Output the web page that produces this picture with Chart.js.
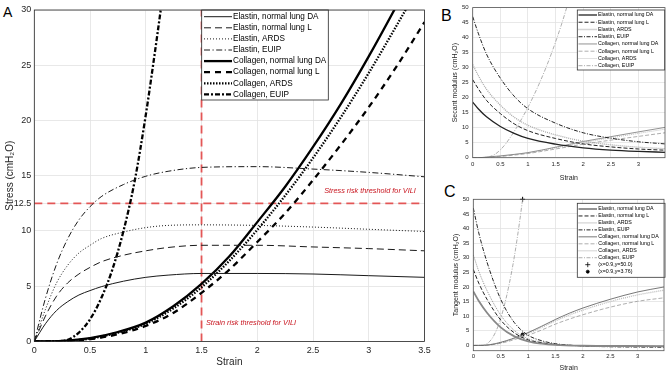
<!DOCTYPE html>
<html>
<head>
<meta charset="utf-8">
<script src="https://cdn.jsdelivr.net/npm/chart.js@4.4.1/dist/chart.umd.min.js"></script>
<style>
  body { margin: 0; background: #fff; width: 669px; height: 372px; position: relative; overflow: hidden; }
  canvas { position: absolute; }
  .tag { position: absolute; font-family: 'Liberation Sans', Arial, sans-serif; line-height: 1; color: #000; }
</style>
</head>
<body>
<div class="tag" style="left:3px;top:5px;font-size:14px">A</div>
<div class="tag" style="left:441px;top:8px;font-size:16px">B</div>
<div class="tag" style="left:444px;top:184px;font-size:16px">C</div>
<canvas id="chartA" width="440" height="372" style="left:0;top:0"></canvas>
<canvas id="chartB" width="229" height="185" style="left:440px;top:0"></canvas>
<canvas id="chartC" width="229" height="187" style="left:440px;top:185px"></canvas>
<script>
// ---- panel A : stress vs strain ----
const elastinStrain = [0, 0.1, 0.2, 0.3, 0.4, 0.5, 0.6, 0.8, 1.0, 1.2, 1.5, 2.0, 2.5, 3.0, 3.5];
const stressElastinDA   = [0, 1.6, 2.8, 3.6, 4.2, 4.6, 4.95, 5.45, 5.8, 6.0, 6.15, 6.15, 6.1, 5.95, 5.8];
const stressElastinL    = [0, 2.3, 4.1, 5.3, 6.1, 6.7, 7.2, 7.8, 8.2, 8.5, 8.7, 8.7, 8.55, 8.4, 8.2];
const stressElastinARDS = [0, 2.9, 5.3, 6.9, 8.0, 8.7, 9.3, 9.9, 10.3, 10.5, 10.55, 10.5, 10.35, 10.15, 9.95];
const stressElastinEUIP = [0, 3.9, 7.0, 9.3, 11.0, 12.2, 13.1, 14.2, 14.95, 15.4, 15.75, 15.82, 15.6, 15.3, 14.9];

const collagenStrain = [0, 0.25, 0.5, 0.75, 1.0, 1.25, 1.5, 1.75, 2.0, 2.25, 2.5, 2.75, 3.0, 3.25, 3.5];
const stressCollagenDA   = [0, 0.05, 0.3, 0.85, 1.7, 3.2, 5.2, 7.7, 10.8, 14.0, 17.6, 21.5, 25.8, 30.4, 35.2];
const stressCollagenL    = [0, 0.03, 0.2, 0.65, 1.4, 2.6, 4.4, 6.5, 9.0, 11.6, 14.6, 17.8, 21.2, 24.9, 28.9];
const stressCollagenARDS = [0, 0.04, 0.25, 0.8, 1.6, 3.0, 4.9, 7.3, 10.1, 13.2, 16.6, 20.3, 24.3, 28.6, 33.0];
const euipStrain = [0, 0.2, 0.3, 0.4, 0.5, 0.6, 0.7, 0.8, 0.9, 1.0, 1.1, 1.2];
const stressCollagenEUIP = [0, 0, 0.15, 0.8, 2.0, 3.9, 6.5, 10.0, 14.5, 20.5, 27.5, 35];

const strainThreshold = 1.5;
const stressThreshold = 12.5;

const ticksAx = [0, 0.5, 1, 1.5, 2, 2.5, 3, 3.5];
const ticksAy = [0, 5, 10, 12.5, 15, 20, 25, 30];

// ---- panel B : secant modulus ----
const secantStrain = [0, 0.1, 0.25, 0.5, 0.75, 1.0, 1.5, 2.0, 2.5, 3.0, 3.48];
const secantElastinDA   = [18.5, 16.3, 13.6, 10.4, 8.1, 6.4, 4.5, 3.3, 2.55, 2.1, 1.8];
const secantElastinL    = [26, 23, 19.1, 14.7, 11.3, 9.0, 6.4, 4.6, 3.6, 2.9, 2.5];
const secantElastinARDS = [31, 27.4, 22.8, 17.5, 13.5, 10.8, 7.6, 5.5, 4.3, 3.5, 3.0];
const secantElastinEUIP = [47, 41.5, 34.5, 26.5, 20.5, 16.3, 11.5, 8.3, 6.5, 5.3, 4.6];
const secantCollagenDA   = [0, 0, 0.2, 0.6, 1.1, 1.7, 3.5, 5.4, 7.0, 8.6, 10.1];
const secantCollagenL    = [0, 0, 0.12, 0.4, 0.87, 1.4, 2.9, 4.5, 5.85, 7.1, 8.3];
const secantCollagenARDS = [0, 0, 0.16, 0.5, 1.05, 1.6, 3.3, 5.05, 6.6, 8.1, 9.5];
const secantEuipStrain = [0, 0.2, 0.3, 0.4, 0.5, 0.6, 0.7, 0.8, 0.9, 1.0, 1.2, 1.4, 1.6, 1.75];
const secantCollagenEUIP = [0, 0, 0.3, 1.1, 2.6, 4.7, 7.3, 10.2, 13.4, 16.8, 24.5, 33.5, 44, 53];

// ---- panel C : tangent modulus ----
const tangentStrain = [0, 0.1, 0.25, 0.5, 0.75, 1.0, 1.25, 1.5, 2.0, 2.5, 3.0, 3.48];
const tangentElastinDA   = [18.5, 15.2, 11.2, 6.2, 3.1, 1.4, 0.6, 0.2, -0.1, -0.2, -0.2, -0.25];
const tangentElastinL    = [26, 21.3, 15.8, 8.7, 4.3, 1.9, 0.9, 0.3, -0.1, -0.25, -0.3, -0.35];
const tangentElastinARDS = [31, 25.4, 18.8, 10.4, 5.1, 2.3, 1.1, 0.4, -0.15, -0.3, -0.35, -0.4];
const tangentElastinEUIP = [47, 38.5, 28.5, 15.8, 7.8, 3.5, 1.6, 0.6, -0.2, -0.45, -0.55, -0.6];
const tangentCollStrain = [0, 0.2, 0.4, 0.6, 0.8, 1.0, 1.25, 1.5, 1.75, 2.0, 2.5, 3.0, 3.48];
const tangentCollagenDA   = [0, 0.05, 0.6, 1.6, 2.9, 4.4, 6.6, 8.9, 11.0, 12.8, 15.8, 18.3, 20.0];
const tangentCollagenL    = [0, 0.03, 0.4, 1.2, 2.3, 3.5, 5.3, 7.3, 9.0, 10.5, 13.1, 15.1, 16.3];
const tangentCollagenARDS = [0, 0.04, 0.5, 1.4, 2.7, 4.1, 6.2, 8.4, 10.4, 12.1, 15.0, 17.3, 18.9];
const tangentEuipStrain = [0, 0.15, 0.25, 0.35, 0.45, 0.55, 0.65, 0.75, 0.85, 0.9, 0.95];
const tangentCollagenEUIP = [0, 0, 0.6, 2.6, 6.5, 12.5, 20.5, 30.5, 43, 50, 57];
const markerTop = [{x: 0.9, y: 50.0}];
const markerLow = [{x: 0.9, y: 3.76}];

const ticksBCx = [0, 0.5, 1, 1.5, 2, 2.5, 3];
const ticksBCy = [0, 5, 10, 15, 20, 25, 30, 35, 40, 45, 50];

const seriesNames = ['Elastin, normal lung DA', 'Elastin, normal lung L', 'Elastin, ARDS', 'Elastin, EUIP',
  'Collagen, normal lung DA', 'Collagen, normal lung L', 'Collagen, ARDS', 'Collagen, EUIP'];

const FONT = "'Liberation Sans', Arial, Helvetica, sans-serif";
Chart.defaults.font.family = FONT;
Chart.defaults.color = '#262626';
Chart.defaults.animation = false;

const pts = (xs, ys) => xs.map((x, i) => ({x: x, y: ys[i]}));

function line(label, xs, ys, st) {
  return {
    label: label,
    data: pts(xs, ys),
    borderColor: st.color,
    borderWidth: st.width,
    borderDash: st.dash || [],
    pointRadius: 0,
    fill: false,
    cubicInterpolationMode: 'monotone'
  };
}

// legend drawn as a MATLAB style box inside the axes
const boxLegend = {
  id: 'boxLegend',
  afterDatasetsDraw(chart, args, o) {
    if (!o || !o.w) return;
    const ctx = chart.ctx;
    const items = chart.data.datasets.filter(d => d.label);
    ctx.save();
    ctx.fillStyle = '#fff';
    ctx.fillRect(o.x, o.y, o.w, o.h);
    ctx.setLineDash([]);
    ctx.strokeStyle = o.edge;
    ctx.lineWidth = 0.8;
    ctx.strokeRect(o.x, o.y, o.w, o.h);
    ctx.font = o.font + 'px ' + FONT;
    ctx.textBaseline = 'middle';
    items.forEach((d, i) => {
      const y = o.y0 + i * o.step;
      if (d.showLine === false) {
        ctx.fillStyle = d.borderColor;
        ctx.strokeStyle = d.borderColor;
        Chart.helpers.drawPoint(ctx, {pointStyle: d.pointStyle, radius: d.pointRadius, borderWidth: 1, rotation: 0}, (o.s0 + o.s1) / 2, y);
      } else {
        ctx.strokeStyle = d.borderColor;
        ctx.lineWidth = d.borderWidth;
        ctx.setLineDash(d.borderDash || []);
        ctx.beginPath();
        ctx.moveTo(o.s0, y);
        ctx.lineTo(o.s1, y);
        ctx.stroke();
        ctx.setLineDash([]);
      }
      ctx.fillStyle = '#000';
      ctx.fillText(d.label, o.tx, y);
    });
    ctx.restore();
  }
};

// axes box and free text notes
const frame = {
  id: 'frame',
  afterDraw(chart, args, o) {
    const {ctx, chartArea: a, scales} = chart;
    ctx.save();
    ctx.strokeStyle = o.color;
    ctx.lineWidth = o.width;
    ctx.setLineDash([]);
    ctx.strokeRect(a.left, a.top, a.right - a.left, a.bottom - a.top);
    (o.notes || []).forEach(n => {
      ctx.font = 'italic ' + n.size + 'px ' + FONT;
      ctx.fillStyle = n.color;
      ctx.textBaseline = 'middle';
      ctx.fillText(n.text, scales.x.getPixelForValue(n.x), scales.y.getPixelForValue(n.y));
    });
    ctx.restore();
  }
};

function options(p) {
  return {
    responsive: false,
    layout: {padding: p.pad},
    plugins: {
      legend: {display: false},
      tooltip: {enabled: false},
      boxLegend: p.legend,
      frame: {color: p.frameColor, width: 0.8, notes: p.notes || []}
    },
    scales: {
      x: {
        type: 'linear', min: 0, max: p.xMax,
        afterBuildTicks: s => { s.ticks = p.xTicks.map(v => ({value: v})); },
        afterFit: s => { s.height = p.xHeight; },
        grid: {color: '#e2e2e2', lineWidth: 0.8, drawTicks: false},
        border: {display: false},
        ticks: {font: {size: p.tick}, padding: p.tickPadX, autoSkip: false, maxRotation: 0, callback: v => String(v)},
        title: {display: true, text: 'Strain', font: {size: p.title}, padding: {top: 0, bottom: p.xTitlePad}}
      },
      y: {
        type: 'linear', min: p.yMin, max: p.yMax,
        afterBuildTicks: s => { s.ticks = p.yTicks.map(v => ({value: v})); },
        afterFit: s => { s.width = p.yWidth; },
        grid: {color: '#e2e2e2', lineWidth: 0.8, drawTicks: false},
        border: {display: false},
        ticks: {font: {size: p.tick}, padding: p.tickPadY, autoSkip: false, callback: v => String(v)},
        title: {display: true, text: p.yTitle, font: {size: p.title}, padding: {top: p.yTitlePad, bottom: 0}}
      }
    }
  };
}

// ---------- chart A ----------
const red = 'rgba(226,70,70,0.9)';
const dsA = [
  line(seriesNames[0], elastinStrain, stressElastinDA, {color: '#1a1a1a', width: 1}),
  line(seriesNames[1], elastinStrain, stressElastinL, {color: '#1a1a1a', width: 1, dash: [7, 4]}),
  line(seriesNames[2], elastinStrain, stressElastinARDS, {color: '#1a1a1a', width: 1, dash: [1, 2]}),
  line(seriesNames[3], elastinStrain, stressElastinEUIP, {color: '#1a1a1a', width: 1, dash: [6, 2.5, 1.2, 2.5]}),
  line(seriesNames[4], collagenStrain, stressCollagenDA, {color: '#000', width: 2.3}),
  line(seriesNames[5], collagenStrain, stressCollagenL, {color: '#000', width: 2.3, dash: [6, 5]}),
  line(seriesNames[6], collagenStrain, stressCollagenARDS, {color: '#000', width: 2.3, dash: [1.5, 1.5]}),
  line(seriesNames[7], euipStrain, stressCollagenEUIP, {color: '#000', width: 2.3, dash: [5, 2, 2, 2]}),
  {data: [{x: strainThreshold, y: 0}, {x: strainThreshold, y: 30}], borderColor: red, borderWidth: 1.8, borderDash: [8, 5], pointRadius: 0},
  {data: [{x: 0, y: stressThreshold}, {x: 3.5, y: stressThreshold}], borderColor: red, borderWidth: 1.8, borderDash: [8, 5], pointRadius: 0}
];

new Chart(document.getElementById('chartA'), {
  type: 'line',
  data: {datasets: dsA},
  options: options({
    pad: {left: 0, top: 10, right: 15.5, bottom: 0},
    xMax: 3.5, yMin: 0, yMax: 30, xTicks: ticksAx, yTicks: ticksAy,
    xHeight: 30.6, yWidth: 34.3, tick: 9, title: 10, tickPadX: 4, tickPadY: 3,
    xTitlePad: 4, yTitlePad: 4, yTitle: 'Stress (cmH₂O)', frameColor: '#262626',
    legend: {x: 201.7, y: 10, w: 126.6, h: 90, y0: 16.7, step: 11.1, s0: 204, s1: 232, tx: 233, font: 8.2, edge: '#262626'},
    notes: [
      {text: 'Stress risk threshold for VILI', x: 2.6, y: 13.6, size: 7.3, color: '#c8141e'},
      {text: 'Strain risk threshold for VILI', x: 1.54, y: 1.7, size: 7.3, color: '#c8141e'}
    ]
  }),
  plugins: [boxLegend, frame]
});

// ---------- chart B ----------
const dsB = [
  line(seriesNames[0], secantStrain, secantElastinDA, {color: '#222', width: 1.3}),
  line(seriesNames[1], secantStrain, secantElastinL, {color: '#222', width: 1, dash: [4, 2]}),
  line(seriesNames[2], secantStrain, secantElastinARDS, {color: '#aaa', width: 1.3, dash: [1, 1]}),
  line(seriesNames[3], secantStrain, secantElastinEUIP, {color: '#222', width: 1, dash: [4, 1.5, 1, 1.5]}),
  line(seriesNames[4], secantStrain, secantCollagenDA, {color: '#777', width: 0.8}),
  line(seriesNames[5], secantStrain, secantCollagenL, {color: '#999', width: 0.8, dash: [4, 2]}),
  line(seriesNames[6], secantStrain, secantCollagenARDS, {color: '#bbb', width: 0.9, dash: [1, 1]}),
  line(seriesNames[7], secantEuipStrain, secantCollagenEUIP, {color: '#999', width: 0.8, dash: [4, 1.5, 1, 1.5]})
];

new Chart(document.getElementById('chartB'), {
  type: 'line',
  data: {datasets: dsB},
  options: options({
    pad: {left: 0, top: 5.7, right: 4, bottom: 0},
    xMax: 3.48, yMin: 0, yMax: 50, xTicks: ticksBCx, yTicks: ticksBCy,
    xHeight: 27.3, yWidth: 32.7, tick: 6, title: 7, tickPadX: 3, tickPadY: 4,
    xTitlePad: 3, yTitlePad: 11, yTitle: 'Secant modulus (cmH₂O)', frameColor: '#555',
    legend: {x: 137.3, y: 10, w: 87.4, h: 60, y0: 15, step: 7.24, s0: 138.5, s1: 157, tx: 158, font: 5.3, edge: '#333'}
  }),
  plugins: [boxLegend, frame]
});

// ---------- chart C ----------
const dsC = [
  line(seriesNames[0], tangentStrain, tangentElastinDA, {color: '#888', width: 1.8}),
  line(seriesNames[1], tangentStrain, tangentElastinL, {color: '#222', width: 1, dash: [4, 2]}),
  line(seriesNames[2], tangentStrain, tangentElastinARDS, {color: '#888', width: 0.9, dash: [1, 1]}),
  line(seriesNames[3], tangentStrain, tangentElastinEUIP, {color: '#222', width: 1, dash: [4, 1.5, 1, 1.5]}),
  line(seriesNames[4], tangentCollStrain, tangentCollagenDA, {color: '#555', width: 0.8}),
  line(seriesNames[5], tangentCollStrain, tangentCollagenL, {color: '#999', width: 0.8, dash: [4, 2]}),
  line(seriesNames[6], tangentCollStrain, tangentCollagenARDS, {color: '#bbb', width: 1.3, dash: [1, 1]}),
  line(seriesNames[7], tangentEuipStrain, tangentCollagenEUIP, {color: '#999', width: 0.8, dash: [4, 1.5, 1, 1.5]}),
  {label: '(x=0.9,y=50.0)', data: markerTop, showLine: false, pointStyle: 'cross', pointRadius: 2.5, borderColor: '#000', backgroundColor: '#000', borderWidth: 1, clip: false},
  {label: '(x=0.9,y=3.76)', data: markerLow, showLine: false, pointStyle: 'circle', pointRadius: 1.5, borderColor: '#000', backgroundColor: '#000', borderWidth: 1, clip: false}
];

new Chart(document.getElementById('chartC'), {
  type: 'line',
  data: {datasets: dsC},
  options: options({
    pad: {left: 0, top: 14.3, right: 3, bottom: 0},
    xMax: 3.48, yMin: -1.8, yMax: 50, xTicks: ticksBCx, yTicks: ticksBCy,
    xHeight: 21.3, yWidth: 33.3, tick: 6, title: 7, tickPadX: 2, tickPadY: 4,
    xTitlePad: 0, yTitlePad: 12, yTitle: 'Tangent modulus (cmH₂O)', frameColor: '#555',
    legend: {x: 137.3, y: 18.3, w: 87.7, h: 74, y0: 24, step: 6.96, s0: 138.5, s1: 157, tx: 158.3, font: 5.3, edge: '#333'}
  }),
  plugins: [boxLegend, frame]
});
</script>
</body>
</html>
